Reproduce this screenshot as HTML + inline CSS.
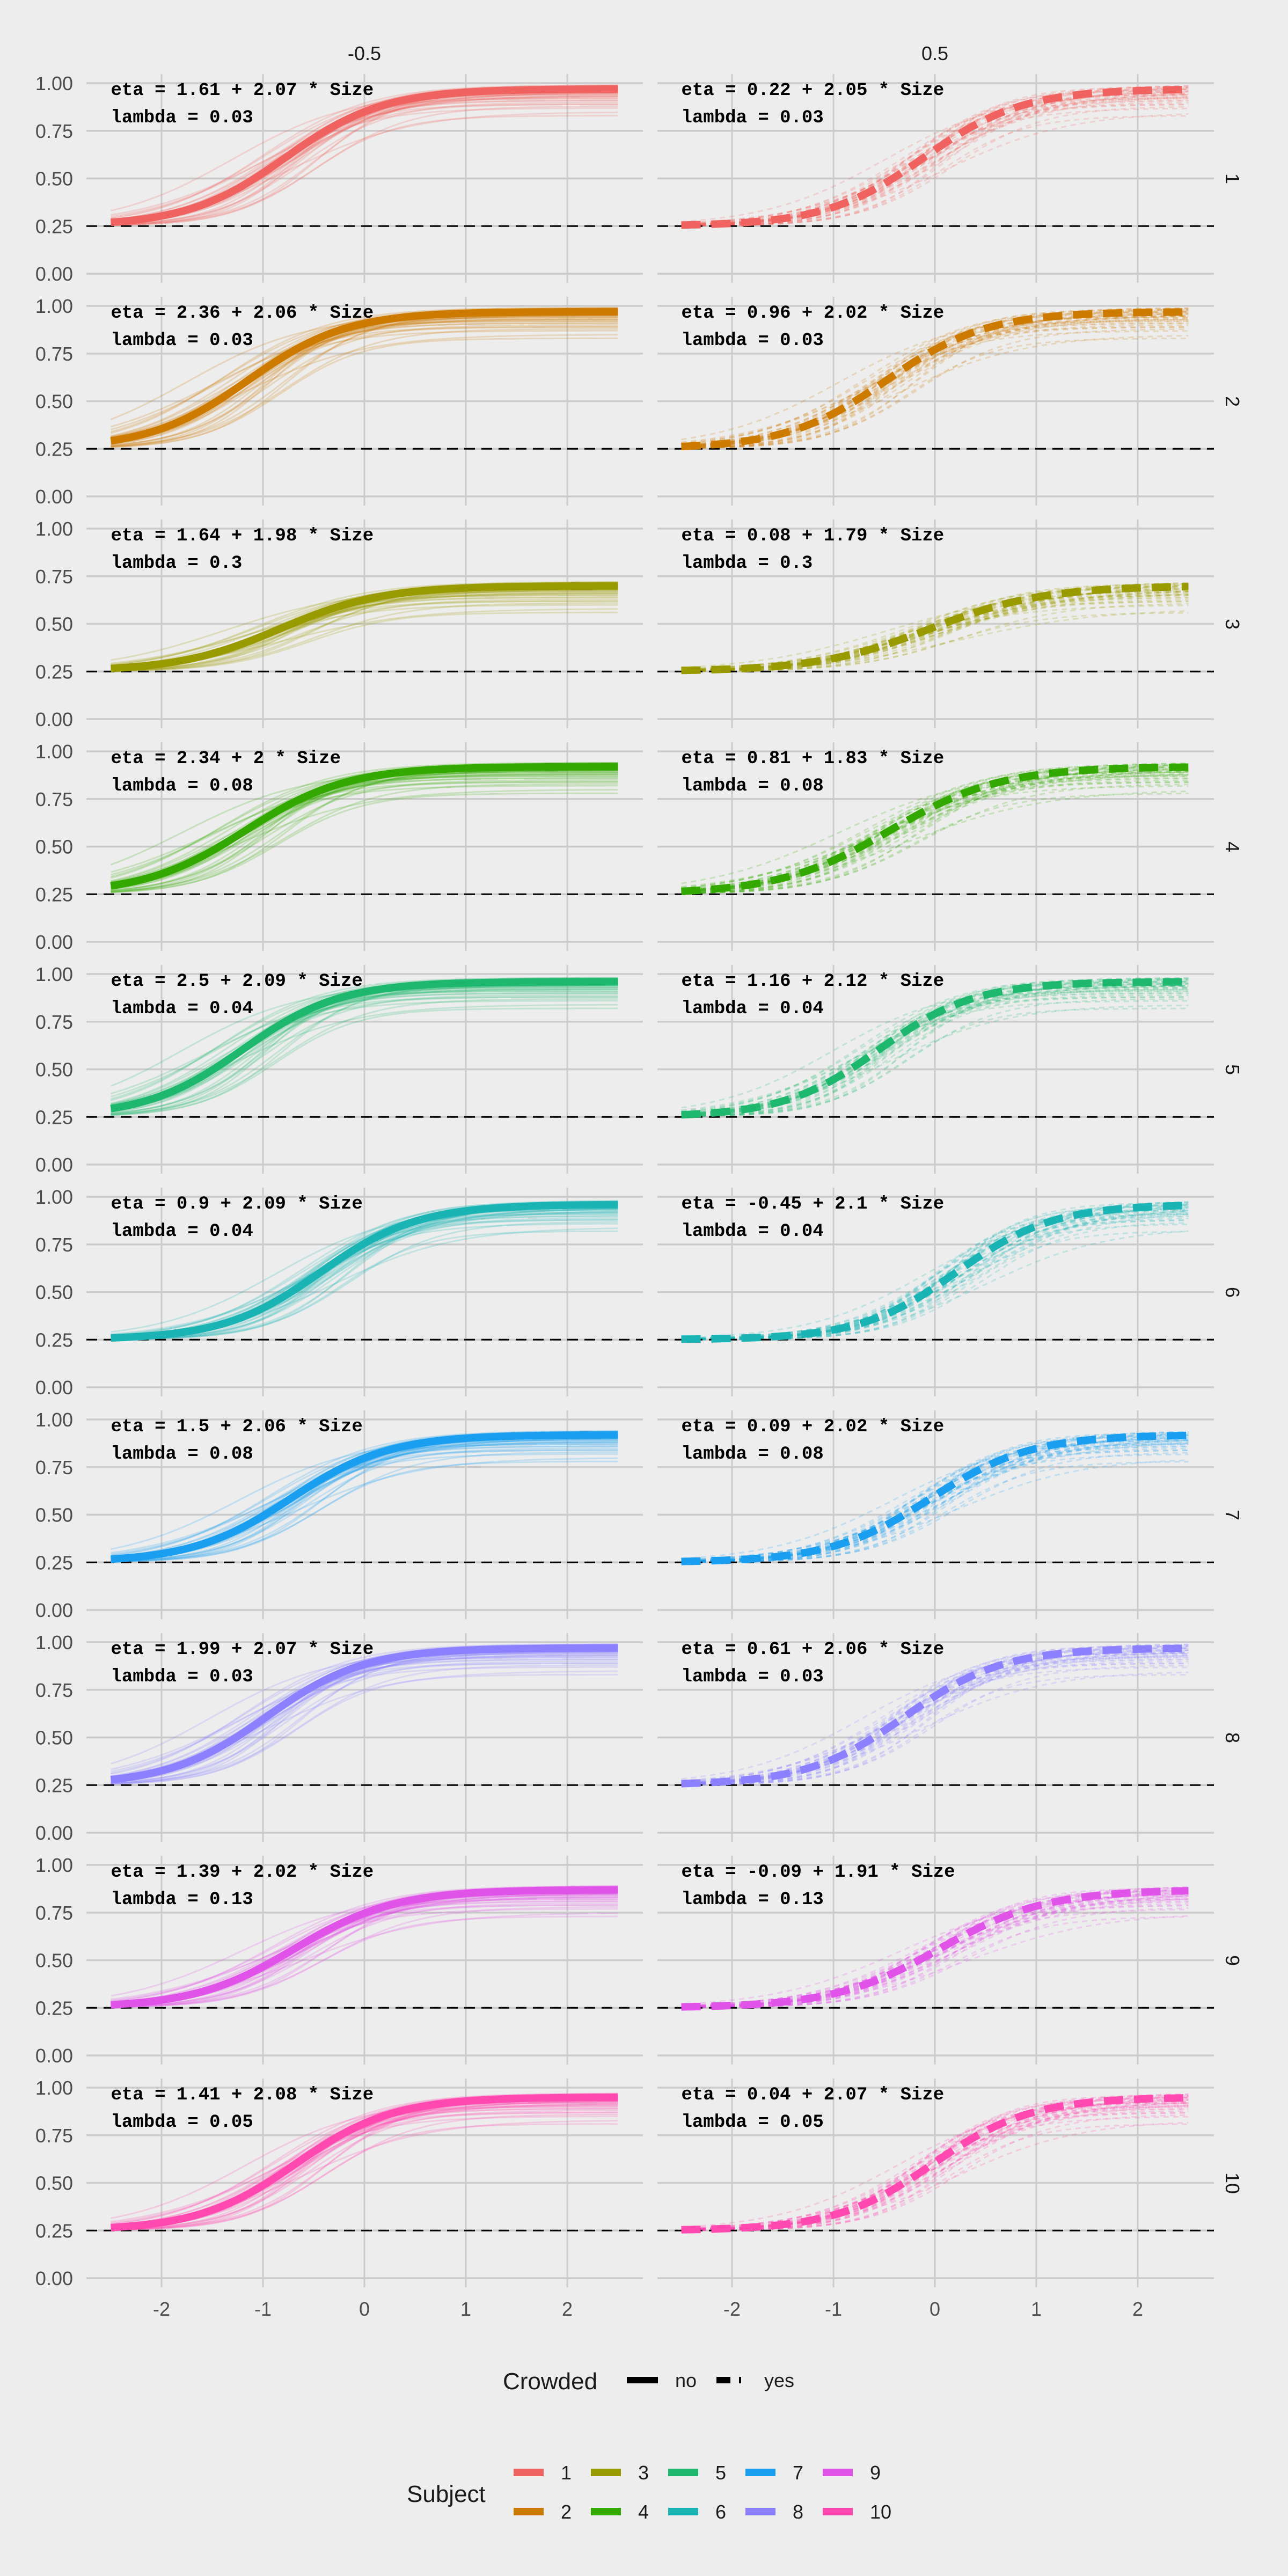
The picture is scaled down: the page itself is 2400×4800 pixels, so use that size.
<!DOCTYPE html>
<html><head><meta charset="utf-8"><style>
html,body{margin:0;padding:0;background:#EDEDED;}
svg{display:block;}
</style></head><body>
<svg id="chart" xmlns="http://www.w3.org/2000/svg" width="2400" height="4800" viewBox="0 0 2400 4800">
<rect x="0" y="0" width="2400" height="4800" fill="#EDEDED"/>
<g id="layer"></g>
</svg>
<script>
const subjects = ["1","2","3","4","5","6","7","8","9","10"];
const colors = ["#F0625F","#CC7A00","#999900","#33A800","#1DB86E","#1BB4B4","#1A9FF0","#8C80FF","#E052E8","#FF48B0"];
const aLeft = [1.61,2.36,1.64,2.34,2.5,0.9,1.5,1.99,1.39,1.41];
const bLeft = [2.07,2.06,1.98,2,2.09,2.09,2.06,2.07,2.02,2.08];
const aRight = [0.22,0.96,0.08,0.81,1.16,-0.45,0.09,0.61,-0.09,0.04];
const bRight = [2.05,2.02,1.79,1.83,2.12,2.1,2.02,2.06,1.91,2.07];
const lambdas = [0.03,0.03,0.3,0.08,0.04,0.04,0.08,0.03,0.13,0.05];
const gammaVal = 0.25;
const crowdedLevels = ["-0.5","0.5"];
const xTicks = [-2,-1,0,1,2];
const yTicks = [0,0.25,0.5,0.75,1];
const yTickLabels = ["0.00","0.25","0.50","0.75","1.00"];
// posterior draw perturbations (intercept shift, slope factor, lambda shift)
const drawDa = [0.35,-0.3,0.55,-0.5,0.15,-0.15,0.42,-0.42,0.05,-0.05,0.25,-0.25,0.6,-0.62,0.3,-0.35,0.1,-0.1,0.48,-0.2,0.2,-0.45,0.38,-0.08,0.12,-0.12,0.22,-0.28,0.02,0.33,-0.38,0.18,-0.02,0.45,-0.55,0.08];
const drawDb = [0.1,-0.1,0.2,-0.15,0.05,-0.05,0.15,-0.2,0.25,-0.1,0.0,0.12,-0.18,0.08,-0.08,0.18,0.3,-0.25,0.05,0.1,-0.12,0.22,-0.05,0.02,0.06,-0.06,0.14,-0.14,0.0,0.09,-0.03,0.2,-0.2,0.04,0.12,-0.08];
const drawDl = [0.0,0.02,0.05,-0.02,0.08,0.01,0.03,0.12,-0.01,0.04,0.06,0.0,0.02,0.09,-0.02,0.14,0.01,0.03,0.05,0.07,-0.01,0.02,0.10,0.04,0.0,0.01,0.03,0.02,-0.01,0.06,0.0,0.04,0.02,0.08,0.01,-0.02];

const NS="http://www.w3.org/2000/svg";
const layer=document.getElementById('layer');
function mk(tag,attrs,parent){const e=document.createElementNS(NS,tag);for(const k in attrs)e.setAttribute(k,attrs[k]);(parent||layer).appendChild(e);return e;}
const panelX0=[679,1742], unit=189;
const panelLeft=[161,1225], panelW=1037;
function top_(i){return 138+415*i;}
function xs(p,v){return panelX0[p]+v*unit;}
function ys(i,v){return top_(i)+17+(1-v)*355;}
function prob(a,b,l,x){return gammaVal+(1-gammaVal-l)/(1+Math.exp(-(a+b*x)));}
function pathFor(p,i,a,b,l){let d="";for(let k=0;k<=100;k++){const x=-2.5+5*k/100;d+=(k?"L":"M")+xs(p,x).toFixed(1)+","+ys(i,prob(a,b,l,x)).toFixed(1);}return d;}

for(let p=0;p<2;p++){
  const t=mk('text',{x:panelX0[p],y:112,'text-anchor':'middle','font-family':'Liberation Sans, sans-serif','font-size':36,fill:'#1a1a1a'});
  
  
  t.textContent=crowdedLevels[p];
}
for(let i=0;i<10;i++){
  const g=mk('g',{});
  
  
  for(let p=0;p<2;p++){
    const pg=mk('g',{},g);
    
    
    for(const v of yTicks){const ln=mk('line',{x1:panelLeft[p],x2:panelLeft[p]+panelW,y1:ys(i,v),y2:ys(i,v),stroke:'#CBCBCB','stroke-width':3.5},pg);
      }
    for(const v of xTicks){const ln=mk('line',{x1:xs(p,v),x2:xs(p,v),y1:top_(i),y2:top_(i)+389,stroke:'#CBCBCB','stroke-width':3},pg);
      }
    const a=p?aRight[i]:aLeft[i], b=p?bRight[i]:bLeft[i], l=lambdas[i];
    for(let k=0;k<drawDa.length;k++){
      const ll=Math.max(0,l+drawDl[k]);
      const e=mk('path',{d:pathFor(p,i,a+drawDa[k],b*(1+drawDb[k]),ll),fill:'none',stroke:colors[i],'stroke-width':3,'stroke-opacity':0.2},pg);
      if(p)e.setAttribute('stroke-dasharray','10 8');
      
      
    }
    const ref=mk('line',{x1:panelLeft[p],x2:panelLeft[p]+panelW,y1:ys(i,0.25),y2:ys(i,0.25),stroke:'#000','stroke-width':3,'stroke-dasharray':'20 12'},pg);
    
    
    const m=mk('path',{d:pathFor(p,i,a,b,l),fill:'none',stroke:colors[i],'stroke-width':14},pg);
    if(p)m.setAttribute('stroke-dasharray','36 20');
    
    
    const t1=mk('text',{x:xs(p,-2.5),y:top_(i)+39,'font-family':'Liberation Mono, monospace','font-weight':'bold','font-size':34,fill:'#000'},pg);
    
    
    t1.textContent='eta = '+a+' + '+b+' * Size';
    const t2=mk('text',{x:xs(p,-2.5),y:top_(i)+90,'font-family':'Liberation Mono, monospace','font-weight':'bold','font-size':34,fill:'#000'},pg);
    
    
    t2.textContent='lambda = '+l;
  }
  for(let k=0;k<yTicks.length;k++){
    const t=mk('text',{x:136,y:ys(i,yTicks[k])+13,'text-anchor':'end','font-family':'Liberation Sans, sans-serif','font-size':36,fill:'#4D4D4D'},g);
    
    
    t.textContent=yTickLabels[k];
  }
  const cy=top_(i)+195;
  const s=mk('text',{x:2296,y:cy,'text-anchor':'middle','font-family':'Liberation Sans, sans-serif','font-size':36,fill:'#1a1a1a',transform:'rotate(90 2296 '+cy+')',dy:'12'},g);
  
  
  s.textContent=subjects[i];
}
for(let p=0;p<2;p++)for(const v of xTicks){
  const t=mk('text',{x:xs(p,v),y:4315,'text-anchor':'middle','font-family':'Liberation Sans, sans-serif','font-size':36,fill:'#4D4D4D'});
  
  
  t.textContent=String(v);
}
const lg=mk('g',{});


let e=mk('text',{x:937,y:4452,'font-family':'Liberation Sans, sans-serif','font-size':44,fill:'#1a1a1a'},lg);
e.textContent='Crowded';
e=mk('line',{x1:1168,x2:1226,y1:4435,y2:4435,stroke:'#000','stroke-width':12},lg);

e=mk('text',{x:1258,y:4448,'font-family':'Liberation Sans, sans-serif','font-size':36,fill:'#1a1a1a'},lg);
e.textContent='no';
e=mk('line',{x1:1335,x2:1392,y1:4435,y2:4435,stroke:'#000','stroke-width':12,'stroke-dasharray':'26 16 4 20'},lg);

e=mk('text',{x:1424,y:4448,'font-family':'Liberation Sans, sans-serif','font-size':36,fill:'#1a1a1a'},lg);
e.textContent='yes';
const sg=mk('g',{});


e=mk('text',{x:758,y:4662,'font-family':'Liberation Sans, sans-serif','font-size':44,fill:'#1a1a1a'},sg);
e.textContent='Subject';
for(let k=0;k<10;k++){
  const col=Math.floor(k/2), row=k%2;
  const kx=957+144*col, ky=row?4680:4607;
  const r=mk('rect',{x:kx,y:ky-7,width:56,height:14,fill:colors[k]},sg);
  
  
  const t=mk('text',{x:kx+88,y:ky+13,'font-family':'Liberation Sans, sans-serif','font-size':36,fill:'#1a1a1a'},sg);
  
  
  t.textContent=subjects[k];
}
</script>
</body></html>
